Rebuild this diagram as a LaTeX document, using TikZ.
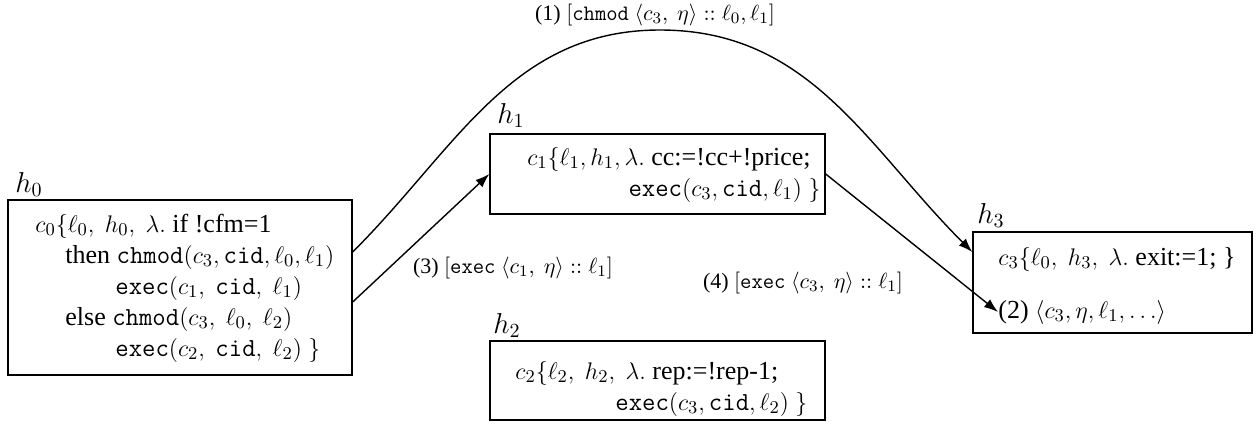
\documentclass[tikz,border=0pt]{standalone}
\usepackage{fontspec}
\setmainfont{Liberation Serif}
\usetikzlibrary{arrows.meta}
\begin{document}
\begin{tikzpicture}[x=0.5pt,y=-0.5pt,
  box/.style={draw,line width=0.7pt,inner sep=0pt,rectangle},
  body/.style={inner sep=0pt,font=\fontsize{13}{15.5}\selectfont},
  hname/.style={inner sep=0pt,anchor=base west,font=\fontsize{14}{16}\selectfont},
  lab/.style={inner sep=0pt,font=\fontsize{11}{13}\selectfont},
  conn/.style={line width=0.7pt,-{Latex[length=7pt,width=5pt]}},
]
\useasboundingbox (0,0) rectangle (1257,425);
% boxes
\node[box,minimum width=172pt,minimum height=87.5pt] (h0) at (180,287.5) {};
\node[box,minimum width=167.5pt,minimum height=40pt] (h1) at (657.5,174) {};
\node[box,minimum width=167.5pt,minimum height=39.5pt] (h2) at (657.5,380.5) {};
\node[box,minimum width=139.5pt,minimum height=50.5pt] (h3) at (1112.5,282.5) {};
% host names
\node[hname] (n0) at (15,192) {$h_0$};
\node[hname] (n1) at (497,123) {$h_1$};
\node[hname] (n2) at (493,333) {$h_2$};
\node[hname] (n3) at (977,223) {$h_3$};
% contents
\node[body,anchor=base west] (t0) at (35,232) {\begin{tabular}[t]{@{}l@{}}
$c_0\{\ell_0,\ h_0,\ \lambda.$ if !cfm=1\\
\hspace*{15pt}then \texttt{chmod}$(c_3,\texttt{cid},\ell_0,\ell_1)$\\
\hspace*{40pt}\texttt{exec}$(c_1,\ \texttt{cid},\ \ell_1)$\\
\hspace*{15pt}else \texttt{chmod}$(c_3,\ \ell_0,\ \ell_2)$\\
\hspace*{40pt}\texttt{exec}$(c_2,\ \texttt{cid},\ \ell_2)\ \}$
\end{tabular}};
\node[body,anchor=base east] (t1) at (821,165) {\begin{tabular}[t]{@{}r@{}}
$c_1\{\ell_1, h_1, \lambda.$ cc:=!cc+!price;\hspace*{5pt}\\
\texttt{exec}$(c_3,\texttt{cid},\ell_1)\ \}$
\end{tabular}};
\node[body,anchor=base west] (t2) at (515,379) {\begin{tabular}[t]{@{}l@{}}
$c_2\{\ell_2,\ h_2,\ \lambda.$ rep:=!rep-1;\\
\hspace*{50pt}\texttt{exec}$(c_3,\texttt{cid},\ell_2)\ \}$
\end{tabular}};
\node[body,anchor=base west] (t3) at (998,265) {$c_3\{\ell_0,\ h_3,\ \lambda.$ exit:=1; \}};
\node[body,anchor=base west] (p2) at (998,318) {(2) $\langle c_3,\eta,\ell_1,\ldots\rangle$};
% labels
\node[lab] (l1) at (655,15) {(1) $[\texttt{chmod}\ \langle c_3,\ \eta\rangle :: \ell_0, \ell_1]$};
\node[lab] (l3) at (513,268) {(3) $[\texttt{exec}\ \langle c_1,\ \eta\rangle :: \ell_1]$};
\node[lab] (l4) at (803,283) {(4) $[\texttt{exec}\ \langle c_3,\ \eta\rangle :: \ell_1]$};
% connectors
\coordinate (top) at (660,30);
\draw[conn] ([yshift=17.75pt]h0.east) to[out=45,in=180] (top) to[out=0,in=135] ([yshift=15.25pt]h3.west);
\draw[conn] ([yshift=-7.25pt]h0.east) -- (h1.west);
\draw[conn] (h1.east) -- (p2.west);
\end{tikzpicture}
\end{document}
